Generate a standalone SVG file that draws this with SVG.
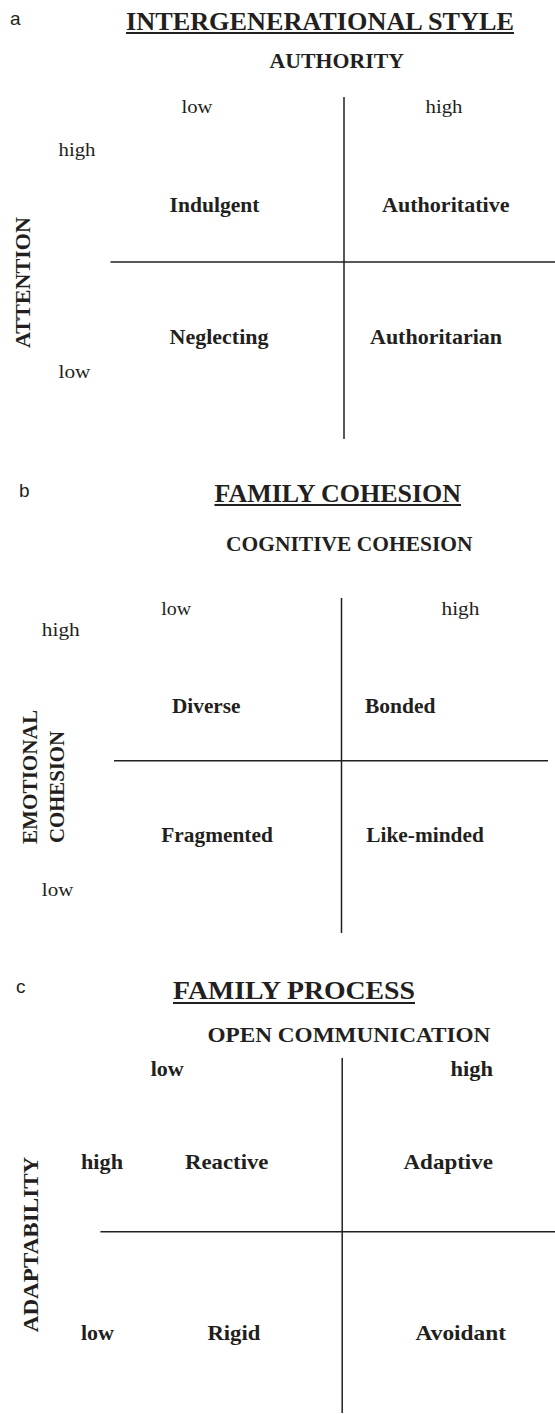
<svg xmlns="http://www.w3.org/2000/svg" width="555" height="1414" viewBox="0 0 555 1414">
<style>
text{font-family:"Liberation Serif","Times New Roman",serif;fill:#231f20}
.pl{font-family:"Liberation Sans",Arial,sans-serif;font-size:19px}
.tt{font-weight:bold;font-size:26px}
.ax{font-weight:bold;font-size:22px}
.lv{font-size:19.5px}
.lb{font-weight:bold;font-size:22px}
.q{font-weight:bold;font-size:21px}
.ln{stroke:#231f20;stroke-width:1.5;fill:none}
.ul{stroke:#231f20;stroke-width:2;fill:none}
</style>
<rect width="555" height="1414" fill="#fff"/>

<!-- Panel a -->
<g id="panel-a-header">
<text class="pl" x="10" y="25">a</text>
<text class="tt" x="126" y="29.5" textLength="388" lengthAdjust="spacingAndGlyphs">INTERGENERATIONAL STYLE</text>
<line class="ul" x1="126" y1="33" x2="514" y2="33"/>
<text class="ax" x="269.5" y="67.5" textLength="134.5" lengthAdjust="spacingAndGlyphs">AUTHORITY</text>
<text class="lv" x="181.5" y="112.5" textLength="31" lengthAdjust="spacingAndGlyphs">low</text>
<text class="lv" x="425.5" y="112.5" textLength="37" lengthAdjust="spacingAndGlyphs">high</text>
<text class="lv" x="58.5" y="155.5" textLength="37" lengthAdjust="spacingAndGlyphs">high</text>
<text class="lv" x="58.5" y="378" textLength="32" lengthAdjust="spacingAndGlyphs">low</text>
<text class="ax" transform="translate(30 348) rotate(-90)" x="0" y="0" textLength="131" lengthAdjust="spacingAndGlyphs">ATTENTION</text>
</g>
<g id="a-indulgent"><text class="q" x="169.5" y="211.5" textLength="90" lengthAdjust="spacingAndGlyphs">Indulgent</text></g>
<g id="a-authoritative"><text class="q" x="382" y="211.5" textLength="127.5" lengthAdjust="spacingAndGlyphs">Authoritative</text></g>
<g id="a-neglecting"><text class="q" x="169.5" y="344" textLength="99" lengthAdjust="spacingAndGlyphs">Neglecting</text></g>
<g id="a-authoritarian"><text class="q" x="370" y="344" textLength="132" lengthAdjust="spacingAndGlyphs">Authoritarian</text></g>

<!-- Panel b -->
<g id="panel-b-header">
<text class="pl" x="19" y="496.5">b</text>
<text class="tt" x="214.5" y="501.5" textLength="246.5" lengthAdjust="spacingAndGlyphs">FAMILY COHESION</text>
<line class="ul" x1="214.5" y1="505" x2="461" y2="505"/>
<text class="ax" x="226" y="551" textLength="246.5" lengthAdjust="spacingAndGlyphs">COGNITIVE COHESION</text>
<text class="lv" x="161.3" y="615" textLength="30" lengthAdjust="spacingAndGlyphs">low</text>
<text class="lv" x="441.5" y="615" textLength="38" lengthAdjust="spacingAndGlyphs">high</text>
<text class="lv" x="41.8" y="636" textLength="38" lengthAdjust="spacingAndGlyphs">high</text>
<text class="lv" x="41.8" y="895.5" textLength="31.5" lengthAdjust="spacingAndGlyphs">low</text>
<text class="ax" transform="translate(37 844) rotate(-90)" x="0" y="0" textLength="134" lengthAdjust="spacingAndGlyphs">EMOTIONAL</text>
<text class="ax" transform="translate(63.5 843) rotate(-90)" x="0" y="0" textLength="112" lengthAdjust="spacingAndGlyphs">COHESION</text>
</g>
<g id="b-diverse"><text class="q" x="172" y="712.5" textLength="68.5" lengthAdjust="spacingAndGlyphs">Diverse</text></g>
<g id="b-bonded"><text class="q" x="365" y="712.5" textLength="70.5" lengthAdjust="spacingAndGlyphs">Bonded</text></g>
<g id="b-fragmented"><text class="q" x="161.3" y="841.5" textLength="111.5" lengthAdjust="spacingAndGlyphs">Fragmented</text></g>
<g id="b-likeminded"><text class="q" x="366.3" y="841.5" textLength="117.5" lengthAdjust="spacingAndGlyphs">Like-minded</text></g>

<!-- Panel c -->
<g id="panel-c-header">
<text class="pl" x="16" y="992.5">c</text>
<text class="tt" x="173" y="999.3" textLength="242" lengthAdjust="spacingAndGlyphs">FAMILY PROCESS</text>
<line class="ul" x1="173" y1="1003" x2="415" y2="1003"/>
<text class="ax" x="207.4" y="1041.7" textLength="283" lengthAdjust="spacingAndGlyphs">OPEN COMMUNICATION</text>
<text class="lb" x="150.7" y="1076" textLength="33" lengthAdjust="spacingAndGlyphs">low</text>
<text class="lb" x="450.4" y="1076" textLength="42.5" lengthAdjust="spacingAndGlyphs">high</text>
<text class="lb" x="81" y="1169" textLength="42" lengthAdjust="spacingAndGlyphs">high</text>
<text class="lb" x="81" y="1340" textLength="33" lengthAdjust="spacingAndGlyphs">low</text>
<text class="ax" font-size="24" transform="translate(38.3 1332.3) rotate(-90)" x="0" y="0" textLength="175.6" lengthAdjust="spacingAndGlyphs">ADAPTABILITY</text>
</g>
<g id="c-reactive"><text class="q" x="185" y="1169" textLength="83.5" lengthAdjust="spacingAndGlyphs">Reactive</text></g>
<g id="c-adaptive"><text class="q" x="403.5" y="1169" textLength="89.5" lengthAdjust="spacingAndGlyphs">Adaptive</text></g>
<g id="c-rigid"><text class="q" x="207.4" y="1340" textLength="53" lengthAdjust="spacingAndGlyphs">Rigid</text></g>
<g id="c-avoidant"><text class="q" x="415.6" y="1340" textLength="90.5" lengthAdjust="spacingAndGlyphs">Avoidant</text></g>

<!-- Axes -->
<g id="connectors">
<line class="ln" x1="344" y1="97" x2="344" y2="439"/>
<line class="ln" x1="110.5" y1="262" x2="555" y2="262"/>
<line class="ln" x1="341.5" y1="598" x2="341.5" y2="933"/>
<line class="ln" x1="114" y1="760.7" x2="548" y2="760.7"/>
<line class="ln" x1="342.2" y1="1058" x2="342.2" y2="1413"/>
<line class="ln" x1="100.4" y1="1231.7" x2="555" y2="1231.7"/>
</g>
</svg>
